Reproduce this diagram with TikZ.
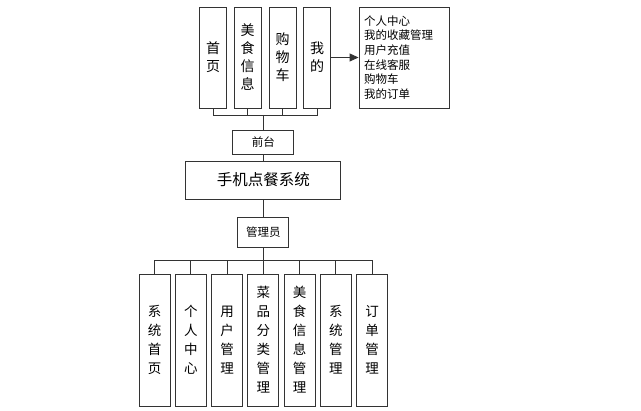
\documentclass[tikz,border=0pt]{standalone}
\usepackage{fontspec}
\newfontfamily\cjk{Noto Sans CJK SC}
\usetikzlibrary{arrows.meta}

\tikzset{
    box/.style={draw=black!80, line width=0.9pt, inner sep=0pt, align=center},
    topbox/.style={box, minimum width=27, minimum height=101, font=\cjk\fontsize{14}{18}\selectfont},
    lowbox/.style={box, minimum width=31, minimum height=132, font=\cjk\fontsize{13.5}{19}\selectfont},
    link/.style={draw=black!80, line width=0.9pt}
}

\begin{document}
\begin{tikzpicture}[x=1pt, y=-1pt]
\useasboundingbox (0,0) rectangle (641,411);

% Front end
\node[topbox] (shouye) at (213,57.5) {首\\页};
\node[topbox] (meishi) at (247.5,57.5) {美\\食\\信\\息};
\node[topbox] (gouwuche) at (282.5,57.5) {购\\物\\车};
\node[topbox] (wode) at (317,57.5) {我\\的};
\node[box, minimum width=90, minimum height=101, text width=80, align=left,
      font=\cjk\fontsize{11.5}{14.6}\selectfont] (info) at (404,57.5)
      {个人中心\\我的收藏管理\\用户充值\\在线客服\\购物车\\我的订单};
\draw[link, -{Triangle[length=9pt, width=8pt]}] (wode.east) -- (info.west);

% Middle
\node[box, minimum width=61, minimum height=24, font=\cjk\fontsize{11.5}{14}\selectfont] (qiantai) at (263.3,142) {前台};
\node[box, minimum width=155, minimum height=38, font=\cjk\fontsize{15.5}{18}\selectfont] (system) at (263.3,180) {手机点餐系统};
\node[box, minimum width=51, minimum height=30, font=\cjk\fontsize{11.5}{14}\selectfont] (admin) at (263.3,232) {管理员};

\coordinate (topbus) at (263.3,115);
\draw[link] (shouye.south) -- (shouye.south |- topbus) -- (wode.south |- topbus) -- (wode.south);
\draw[link] (meishi.south) -- (meishi.south |- topbus);
\draw[link] (gouwuche.south) -- (gouwuche.south |- topbus);
\draw[link] (topbus) -- (qiantai.north);
\draw[link] (qiantai.south) -- (system.north);
\draw[link] (system.south) -- (admin.north);

% Back end
\node[lowbox] (xtsy) at (154.7,340) {系\\统\\首\\页};
\node[lowbox] (grzx) at (190.8,340) {个\\人\\中\\心};
\node[lowbox] (yhgl) at (227.2,340) {用\\户\\管\\理};
\node[lowbox] (cpfl) at (263.3,340) {菜\\品\\分\\类\\管\\理};
\node[lowbox] (msgl) at (299.5,340) {美\\食\\信\\息\\管\\理};
\node[lowbox] (xtgl) at (335.8,340) {系\\统\\管\\理};
\node[lowbox] (ddgl) at (372,340) {订\\单\\管\\理};

\coordinate (lowbus) at (263.3,260);
\draw[link] (admin.south) -- (lowbus);
\draw[link] (xtsy.north) -- (xtsy.north |- lowbus) -- (ddgl.north |- lowbus) -- (ddgl.north);
\foreach \n in {grzx, yhgl, cpfl, msgl, xtgl}
    \draw[link] (\n.north) -- (\n.north |- lowbus);

\end{tikzpicture}
\end{document}
